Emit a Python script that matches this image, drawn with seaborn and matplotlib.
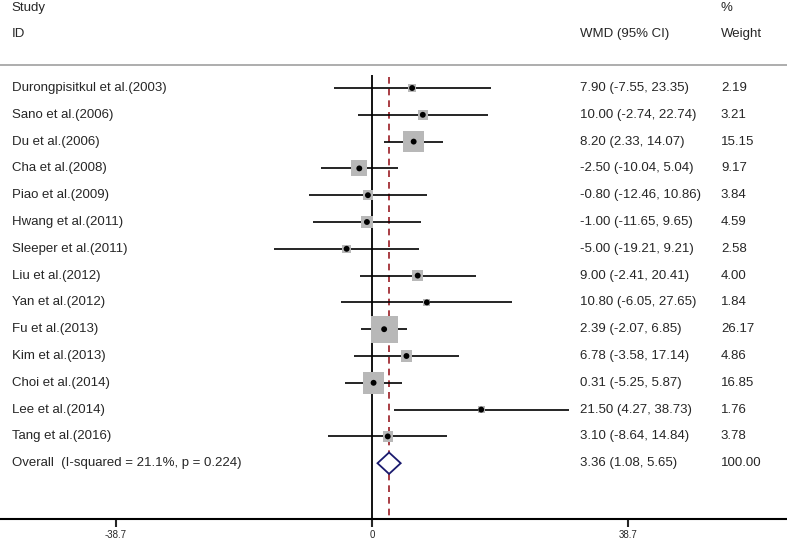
import numpy as np
import pandas as pd
import seaborn as sns
import matplotlib.pyplot as plt
from matplotlib.transforms import blended_transform_factory

# data
studies = ["Durongpisitkul et al.(2003)", "Sano et al.(2006)", "Du et al.(2006)",
           "Cha et al.(2008)", "Piao et al.(2009)", "Hwang et al.(2011)",
           "Sleeper et al.(2011)", "Liu et al.(2012)", "Yan et al.(2012)",
           "Fu et al.(2013)", "Kim et al.(2013)", "Choi et al.(2014)",
           "Lee et al.(2014)", "Tang et al.(2016)"]
wmd = [7.90, 10.00, 8.20, -2.50, -0.80, -1.00, -5.00, 9.00, 10.80, 2.39, 6.78, 0.31, 21.50, 3.10]
lower = [-7.55, -2.74, 2.33, -10.04, -12.46, -11.65, -19.21, -2.41, -6.05, -2.07, -3.58, -5.25, 4.27, -8.64]
upper = [23.35, 22.74, 14.07, 5.04, 10.86, 9.65, 9.21, 20.41, 27.65, 6.85, 17.14, 5.87, 38.73, 14.84]
weight = [2.19, 3.21, 15.15, 9.17, 3.84, 4.59, 2.58, 4.00, 1.84, 26.17, 4.86, 16.85, 1.76, 3.78]

overall_label = "Overall  (I-squared = 21.1%, p = 0.224)"
overall = 3.36
overall_lo = 1.08
overall_hi = 5.65

xticks = [-38.7, 0, 38.7]
xticklabels = ["-38.7", "0", "38.7"]

df = pd.DataFrame({"study": studies, "wmd": wmd, "lo": lower, "hi": upper, "w": weight})
df["row"] = np.arange(len(df))
n = len(df)

sns.set_style("white")
plt.rcParams["font.family"] = ["Liberation Sans", "DejaVu Sans"]

fig = plt.figure(figsize=(7.87, 5.43), dpi=100)
rect = [0, 24 / 543, 1, 519 / 543]
ax = fig.add_axes(rect)

# rows are 26.8 px apart, first row 88 px below the top
row_px = 26.8
top = -88 / row_px
bottom = (519 - 88) / row_px
ax.set_ylim(bottom, top)
ax.set_xlim(-372 / 5.08, (787 - 372) / 5.08)

# reference lines
ax.vlines(0, (75 - 88) / row_px, bottom, color="black", lw=1.3, zorder=1)
ax.vlines(overall, (77 - 88) / row_px, bottom, color="#9b1c24", lw=1.2,
          linestyles=(0, (4, 3)), zorder=1)

# confidence intervals
ax.hlines(df["row"], df["lo"], df["hi"], color="black", lw=1.2, zorder=2)

# weight boxes (area proportional to weight)
wmin, wmax = min(weight), max(weight)
sns.scatterplot(data=df, x="wmd", y="row", size="w", sizes=(375 * wmin / wmax, 375),
                marker="s", color="#b8b8b8", edgecolor="none", legend=False,
                ax=ax, zorder=3)
sns.scatterplot(data=df, x="wmd", y="row", marker="o", s=18, color="black",
                edgecolor="none", legend=False, ax=ax, zorder=4)

# overall diamond
yo = n
ax.fill([overall_lo, overall, overall_hi, overall], [yo, yo - 0.4, yo, yo + 0.4],
        facecolor="white", edgecolor="#1a1a6e", lw=1.3, zorder=4)

# text columns
tr = blended_transform_factory(ax.transAxes, ax.transData)
fs = 9.5
x_lab, x_est, x_w = 0.015, 0.737, 0.916
ax.text(x_lab, top + 8 / row_px, "Study", transform=tr, fontsize=fs, va="center")
ax.text(x_lab, top + 34 / row_px, "ID", transform=tr, fontsize=fs, va="center")
ax.text(x_est, top + 34 / row_px, "WMD (95% CI)", transform=tr, fontsize=fs, va="center")
ax.text(x_w, top + 8 / row_px, "%", transform=tr, fontsize=fs, va="center")
ax.text(x_w, top + 34 / row_px, "Weight", transform=tr, fontsize=fs, va="center")
ax.hlines(top + 65 / row_px, 0, 1, transform=tr, color="#a0a0a0", lw=1.2)

for r, s, m, lo, hi, w in zip(df["row"], studies, wmd, lower, upper, weight):
    ax.text(x_lab, r, s, transform=tr, fontsize=fs, va="center")
    ax.text(x_est, r, f"{m:.2f} ({lo:.2f}, {hi:.2f})", transform=tr, fontsize=fs, va="center")
    ax.text(x_w, r, f"{w:.2f}", transform=tr, fontsize=fs, va="center")

ax.text(x_lab, yo, overall_label, transform=tr, fontsize=fs, va="center")
ax.text(x_est, yo, f"{overall:.2f} ({overall_lo:.2f}, {overall_hi:.2f})",
        transform=tr, fontsize=fs, va="center")
ax.text(x_w, yo, "100.00", transform=tr, fontsize=fs, va="center")

for side in ["top", "left", "right", "bottom"]:
    ax.spines[side].set_visible(False)
ax.set_xticks([])
ax.set_yticks([])
ax.set_xlabel("")
ax.set_ylabel("")

# bottom scale axis
ax2 = fig.add_axes(rect)
ax2.patch.set_visible(False)
ax2.set_xlim(-372 / 6.615, (787 - 372) / 6.615)
for side in ["top", "left", "right"]:
    ax2.spines[side].set_visible(False)
ax2.spines["bottom"].set_linewidth(1.5)
ax2.spines["bottom"].set_color("black")
ax2.set_yticks([])
ax2.set_xticks(xticks)
ax2.set_xticklabels(xticklabels, fontsize=7)
ax2.tick_params(axis="x", direction="out", length=6, width=1.5, pad=2, bottom=True)

fig.savefig("out.png", dpi=100)
